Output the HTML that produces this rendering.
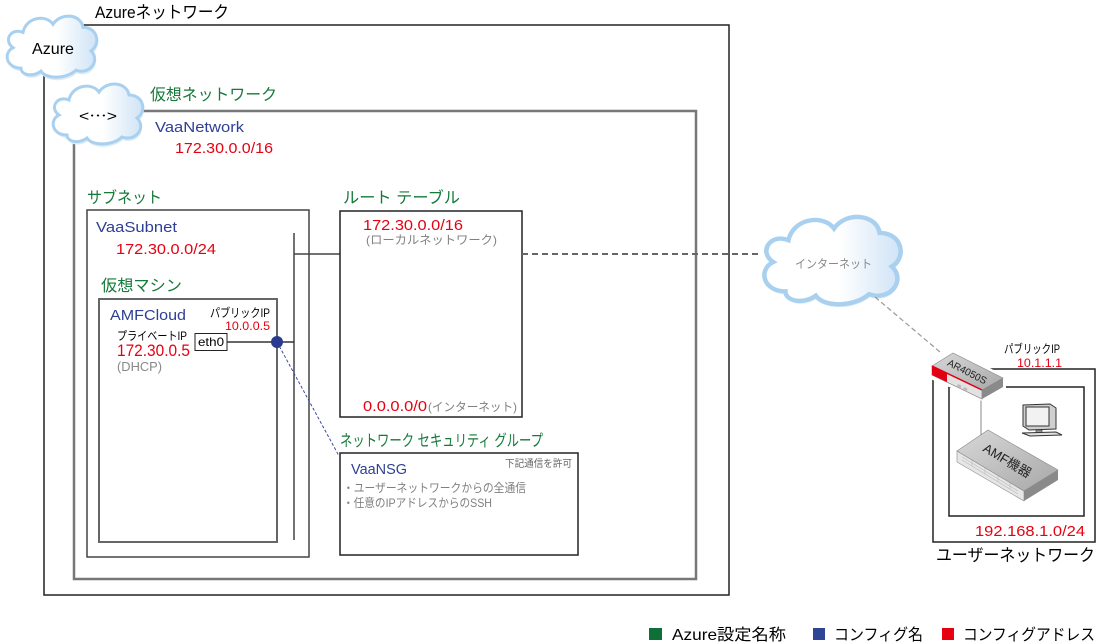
<!DOCTYPE html>
<html><head><meta charset="utf-8"><style>
html,body{margin:0;padding:0;background:#fff;}
svg{display:block;}
text{font-family:"Liberation Sans","Noto Sans CJK JP",sans-serif;}
</style></head><body>
<svg width="1099" height="643" viewBox="0 0 1099 643" xmlns="http://www.w3.org/2000/svg">
<defs>
<linearGradient id="cg" x1="0" y1="0" x2="1" y2="0">
<stop offset="0" stop-color="#ffffff"/><stop offset="0.55" stop-color="#ffffff"/><stop offset="1" stop-color="#cfe3f6"/>
</linearGradient>
<linearGradient id="tg" x1="0" y1="0" x2="1" y2="1">
<stop offset="0" stop-color="#d8d8d8"/><stop offset="1" stop-color="#a8a8a8"/>
</linearGradient>
<path id="cloud" d="M20 55 C5 55 2 40 12 35 C2 28 10 15 22 20 C25 5 45 2 52 12 C60 0 80 2 82 15 C97 15 100 32 90 38 C100 48 88 62 75 57 C65 66 45 66 40 58 C32 64 20 62 20 55 Z"/>
</defs>

<rect x="44" y="25" width="685" height="570" fill="none" stroke="#222" stroke-width="1.5"/>
<rect x="74" y="111" width="622" height="468" fill="none" stroke="#777" stroke-width="2.5"/>
<rect x="87" y="210" width="222" height="347" fill="none" stroke="#444" stroke-width="1.5"/>
<rect x="99" y="299" width="178" height="243" fill="none" stroke="#666" stroke-width="2"/>
<line x1="294" y1="233" x2="294" y2="540" stroke="#444" stroke-width="1.5"/>
<line x1="294" y1="254" x2="340" y2="254" stroke="#444" stroke-width="1.5"/>
<rect x="195" y="333.5" width="32" height="17" fill="#fff" stroke="#222" stroke-width="1"/>
<text x="198" y="346" font-size="12" fill="#000" textLength="26" lengthAdjust="spacingAndGlyphs">eth0</text>
<line x1="227" y1="342" x2="294" y2="342" stroke="#333" stroke-width="1.5"/>
<line x1="277" y1="342" x2="339" y2="456" stroke="#3b4aa0" stroke-width="1" stroke-dasharray="3,2"/>
<circle cx="277" cy="342" r="6" fill="#2a3a8f"/>

<rect x="340" y="211" width="182" height="206" fill="none" stroke="#222" stroke-width="1.5"/>
<line x1="522" y1="254" x2="760" y2="254" stroke="#666" stroke-width="2" stroke-dasharray="6,4"/>
<rect x="340" y="453" width="238" height="102" fill="none" stroke="#222" stroke-width="1.5"/>

<g transform="translate(1,12) scale(1,1.02)">
<use href="#cloud" fill="#dcebf8" transform="translate(1,3)"/>
<use href="#cloud" fill="url(#cg)" stroke="#a9d1ef" stroke-width="3" vector-effect="non-scaling-stroke"/>
</g>
<g transform="translate(47,80)">
<use href="#cloud" fill="#dcebf8" transform="translate(1,3)"/>
<use href="#cloud" fill="url(#cg)" stroke="#a9d1ef" stroke-width="3"/>
</g>
<g transform="translate(755,211) scale(1.52,1.46)">
<use href="#cloud" fill="#dcebf8" transform="translate(0.7,2)"/>
<use href="#cloud" fill="url(#cg)" stroke="#a9d1ef" stroke-width="3" vector-effect="non-scaling-stroke"/>
</g>

<line x1="875" y1="297" x2="940" y2="352" stroke="#999" stroke-width="1.2" stroke-dasharray="5,3"/>

<rect x="933" y="369" width="162" height="173" fill="none" stroke="#222" stroke-width="1.5"/>
<rect x="949" y="387" width="135" height="129" fill="none" stroke="#222" stroke-width="1.5"/>
<line x1="981" y1="396" x2="981" y2="440" stroke="#888" stroke-width="1"/>

<polygon points="928,362 953,350 1006,376 1006,388 982,401 928,378" fill="#fff"/>
<polygon points="932,366 982,390 982,399 932,375" fill="#e2e2e2" stroke="#777" stroke-width="0.6"/>
<polygon points="932,366 947,373 947,382 932,375" fill="#e00012"/>
<polygon points="982,390 1003,378 1003,387 982,399" fill="#8a8a8a"/>
<polygon points="932,366 953,353 1003,378 982,390" fill="url(#tg)" stroke="#888" stroke-width="0.6"/>
<line x1="932" y1="366" x2="982" y2="390" stroke="#e00012" stroke-width="1.5"/>
<rect x="958" y="384" width="4" height="3" fill="#bbb" transform="rotate(25 958 384)"/>
<rect x="964" y="387" width="4" height="3" fill="#bbb" transform="rotate(25 964 387)"/>
<text x="967" y="375" font-size="10" fill="#222" text-anchor="middle" transform="rotate(27 967 372)">AR4050S</text>

<polygon points="957,451 1024,491 1024,501 957,462" fill="#e6e6e6" stroke="#888" stroke-width="0.6"/>
<g stroke="#bbb" stroke-width="0.6">
<line x1="962" y1="457" x2="1018" y2="491"/>
<line x1="962" y1="460" x2="1018" y2="494"/>
<line x1="972" y1="460" x2="972" y2="466"/>
<line x1="985" y1="468" x2="985" y2="474"/>
<line x1="998" y1="476" x2="998" y2="482"/>
<line x1="1010" y1="483" x2="1010" y2="489"/>
</g>
<polygon points="1024,491 1058,470 1058,480 1024,501" fill="#8a8a8a"/>
<polygon points="957,451 988,430 1058,470 1024,491" fill="url(#tg)" stroke="#888" stroke-width="0.6"/>
<text x="1007" y="465" font-size="13" fill="#222" text-anchor="middle" transform="rotate(31 1007 461)">AMF機器</text>

<!-- Monitor -->
<polygon points="1023,405 1050,404 1056,408 1056,429 1029,430 1023,426" fill="#cfcfcf" stroke="#333" stroke-width="1"/>
<rect x="1026" y="407" width="23" height="19" fill="#f2f2f2" stroke="#333" stroke-width="1"/>
<rect x="1036" y="430" width="6" height="3" fill="#999" stroke="#333" stroke-width="0.6"/>
<polygon points="1022,433 1056,432 1062,435 1030,436" fill="#e0e0e0" stroke="#333" stroke-width="1"/>

<text x="95" y="18" font-size="17" fill="#000" textLength="134" lengthAdjust="spacingAndGlyphs">Azureネットワーク</text>
<text x="32" y="54" font-size="16" fill="#000" textLength="42" lengthAdjust="spacingAndGlyphs">Azure</text>
<text x="79" y="121" font-size="15" fill="#000" textLength="38" lengthAdjust="spacingAndGlyphs">&lt;⋯&gt;</text>

<text x="150" y="100" font-size="16" fill="#157a3a" textLength="127" lengthAdjust="spacingAndGlyphs">仮想ネットワーク</text>
<text x="155" y="132" font-size="15" fill="#2e3f94" textLength="89" lengthAdjust="spacingAndGlyphs">VaaNetwork</text>
<text x="175" y="153" font-size="15" fill="#e60012" textLength="98" lengthAdjust="spacingAndGlyphs">172.30.0.0/16</text>

<text x="87" y="203" font-size="16" fill="#157a3a" textLength="75" lengthAdjust="spacingAndGlyphs">サブネット</text>
<text x="96" y="232" font-size="15" fill="#2e3f94" textLength="81" lengthAdjust="spacingAndGlyphs">VaaSubnet</text>
<text x="116" y="254" font-size="15" fill="#e60012" textLength="100" lengthAdjust="spacingAndGlyphs">172.30.0.0/24</text>

<text x="101" y="291" font-size="16" fill="#157a3a" textLength="81" lengthAdjust="spacingAndGlyphs">仮想マシン</text>
<text x="110" y="320" font-size="15" fill="#2e3f94" textLength="76" lengthAdjust="spacingAndGlyphs">AMFCloud</text>
<text x="210" y="317" font-size="12" fill="#000" textLength="60" lengthAdjust="spacingAndGlyphs">パブリックIP</text>
<text x="225" y="330" font-size="12" fill="#e60012" textLength="45" lengthAdjust="spacingAndGlyphs">10.0.0.5</text>
<text x="117" y="340" font-size="12" fill="#000" textLength="70" lengthAdjust="spacingAndGlyphs">プライベートIP</text>
<text x="117" y="356" font-size="17" fill="#e60012" textLength="73" lengthAdjust="spacingAndGlyphs">172.30.0.5</text>
<text x="117" y="371" font-size="13" fill="#888" textLength="45" lengthAdjust="spacingAndGlyphs">(DHCP)</text>

<text x="343" y="203" font-size="16" fill="#157a3a" textLength="117" lengthAdjust="spacingAndGlyphs">ルート テーブル</text>
<text x="363" y="230" font-size="15" fill="#e60012" textLength="100" lengthAdjust="spacingAndGlyphs">172.30.0.0/16</text>
<text x="366" y="244" font-size="12" fill="#808080" textLength="131" lengthAdjust="spacingAndGlyphs">(ローカルネットワーク)</text>
<text x="363" y="411" font-size="15" fill="#e60012" textLength="64" lengthAdjust="spacingAndGlyphs">0.0.0.0/0</text>
<text x="428" y="411" font-size="12" fill="#808080" textLength="89" lengthAdjust="spacingAndGlyphs">(インターネット)</text>

<text x="340" y="446" font-size="16" fill="#157a3a" textLength="203" lengthAdjust="spacingAndGlyphs">ネットワーク セキュリティ グループ</text>
<text x="351" y="474" font-size="15" fill="#2e3f94" textLength="56" lengthAdjust="spacingAndGlyphs">VaaNSG</text>
<text x="505" y="467" font-size="10" fill="#666" textLength="67" lengthAdjust="spacingAndGlyphs">下記通信を許可</text>
<text x="343" y="492" font-size="12" fill="#808080" textLength="183" lengthAdjust="spacingAndGlyphs">・ユーザーネットワークからの全通信</text>
<text x="343" y="507" font-size="12" fill="#808080" textLength="149" lengthAdjust="spacingAndGlyphs">・任意のIPアドレスからのSSH</text>

<text x="795" y="268" font-size="12" fill="#888" textLength="77" lengthAdjust="spacingAndGlyphs">インターネット</text>

<text x="1004" y="353" font-size="12" fill="#000" textLength="56" lengthAdjust="spacingAndGlyphs">パブリックIP</text>
<text x="1017" y="367" font-size="12" fill="#e60012" textLength="45" lengthAdjust="spacingAndGlyphs">10.1.1.1</text>
<text x="975" y="536" font-size="15" fill="#e60012" textLength="110" lengthAdjust="spacingAndGlyphs">192.168.1.0/24</text>
<text x="936" y="561" font-size="17" fill="#000" textLength="159" lengthAdjust="spacingAndGlyphs">ユーザーネットワーク</text>

<rect x="649" y="628" width="13" height="12" fill="#0f6f38"/>
<text x="672" y="640" font-size="16" fill="#000" textLength="114" lengthAdjust="spacingAndGlyphs">Azure設定名称</text>
<rect x="813" y="628" width="12" height="12" fill="#2e4495"/>
<text x="834" y="640" font-size="16" fill="#000" textLength="89" lengthAdjust="spacingAndGlyphs">コンフィグ名</text>
<rect x="942" y="628" width="12" height="12" fill="#e60012"/>
<text x="963" y="640" font-size="16" fill="#000" textLength="132" lengthAdjust="spacingAndGlyphs">コンフィグアドレス</text>
</svg>
</body></html>
